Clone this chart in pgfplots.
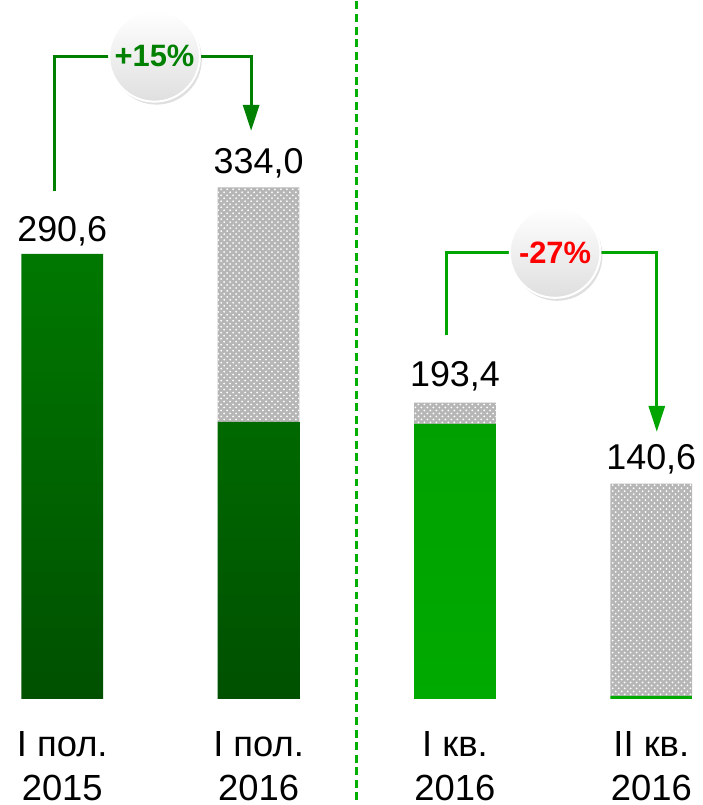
\documentclass[border=0pt]{standalone}
\usepackage{pgfplots}
\pgfplotsset{compat=1.18}
\usepackage{fontspec}
\setmainfont{Liberation Sans}
\usetikzlibrary{patterns,shadows,arrows.meta}
\definecolor{dkgtop}{RGB}{0,120,0}
\definecolor{dkgbot}{RGB}{0,80,0}
\definecolor{brtop}{RGB}{0,160,0}
\definecolor{brmid}{RGB}{0,200,0}
\definecolor{brbot}{RGB}{0,170,0}
\definecolor{patgray}{RGB}{182,182,182}
\definecolor{txtgreen}{RGB}{0,128,0}
\definecolor{lngreen}{RGB}{0,128,0}
\definecolor{lngreen2}{RGB}{0,165,0}
\definecolor{dashgreen}{RGB}{0,175,0}
\begin{document}
\begin{tikzpicture}
\begin{axis}[
  scale only axis, width=350.5pt, height=350pt,
  xmin=-0.317, xmax=3.24, ymin=0, ymax=455.4,
  ybar stacked, bar width=41pt,
  axis line style={draw=none}, tick style={draw=none},
  ytick=\empty, xtick={0,1,2,3},
  xticklabels={{I пол.\\2015},{I пол.\\2016},{I кв.\\2016},{II кв.\\2016}},
  xticklabel style={align=center, anchor=north, inner sep=0pt, font=\fontsize{18.25}{22}\selectfont, yshift=-16pt},
  clip=false,
]
\addplot[draw=none, top color=dkgtop, bottom color=dkgbot] coordinates {(0,290.6) (1,180.9) (2,0) (3,0)};
\addplot[draw=none, top color=brtop, middle color=brmid, bottom color=brbot] coordinates {(0,0) (1,0) (2,179.6) (3,2)};
\addplot[draw=none, fill=patgray, postaction={pattern=crosshatch dots, pattern color=white}] coordinates {(0,0) (1,153.1) (2,13.8) (3,138.6)};

\node[anchor=base, yshift=6pt, font=\fontsize{18}{20}\selectfont] at (axis cs:0,290.6) {290,6};
\node[anchor=base, yshift=7pt, font=\fontsize{18}{20}\selectfont] at (axis cs:1,334.0) {334,0};
\node[anchor=base, yshift=8pt, font=\fontsize{18}{20}\selectfont] at (axis cs:2,193.4) {193,4};
\node[anchor=base, yshift=7pt, font=\fontsize{18}{20}\selectfont] at (axis cs:3,140.6) {140,6};

\draw[dashgreen, line width=1.5pt, dash pattern=on 4pt off 2.3pt] (axis cs:1.5,455.4) -- (axis cs:1.5,-68.3);

\coordinate (a1) at (axis cs:-0.038,331.8);
\coordinate (a2) at (axis cs:-0.038,419.6);
\coordinate (a3) at (axis cs:0.962,419.6);
\coordinate (a4) at (axis cs:0.962,370.9);
\coordinate (c1) at (axis cs:0.47,419.6);
\coordinate (b1) at (axis cs:1.957,237.5);
\coordinate (b2) at (axis cs:1.957,291.5);
\coordinate (b3) at (axis cs:3.028,291.5);
\coordinate (b4) at (axis cs:3.028,174.4);
\coordinate (c2) at (axis cs:2.51,291.5);
\end{axis}
\draw[lngreen, line width=1.5pt, -{Triangle[width=8pt,length=13pt]}] (a1) -- (a2) -- (a3) -- (a4);
\node[circle, minimum size=45.5pt, inner sep=0pt, top color=white, bottom color=gray!25, draw=white, line width=1pt,
  drop shadow={opacity=0.25, shadow xshift=1pt, shadow yshift=-1.5pt},
  font=\bfseries\fontsize{15.5}{17}\selectfont, text=txtgreen] at (c1) {+15\%};
\draw[lngreen2, line width=1.5pt, -{Triangle[width=8pt,length=13pt]}] (b1) -- (b2) -- (b3) -- (b4);
\node[circle, minimum size=45.5pt, inner sep=0pt, top color=white, bottom color=gray!25, draw=white, line width=1pt,
  drop shadow={opacity=0.25, shadow xshift=1pt, shadow yshift=-1.5pt},
  font=\bfseries\fontsize{15.5}{17}\selectfont, text=red] at (c2) {-27\%};
\end{tikzpicture}
\end{document}
